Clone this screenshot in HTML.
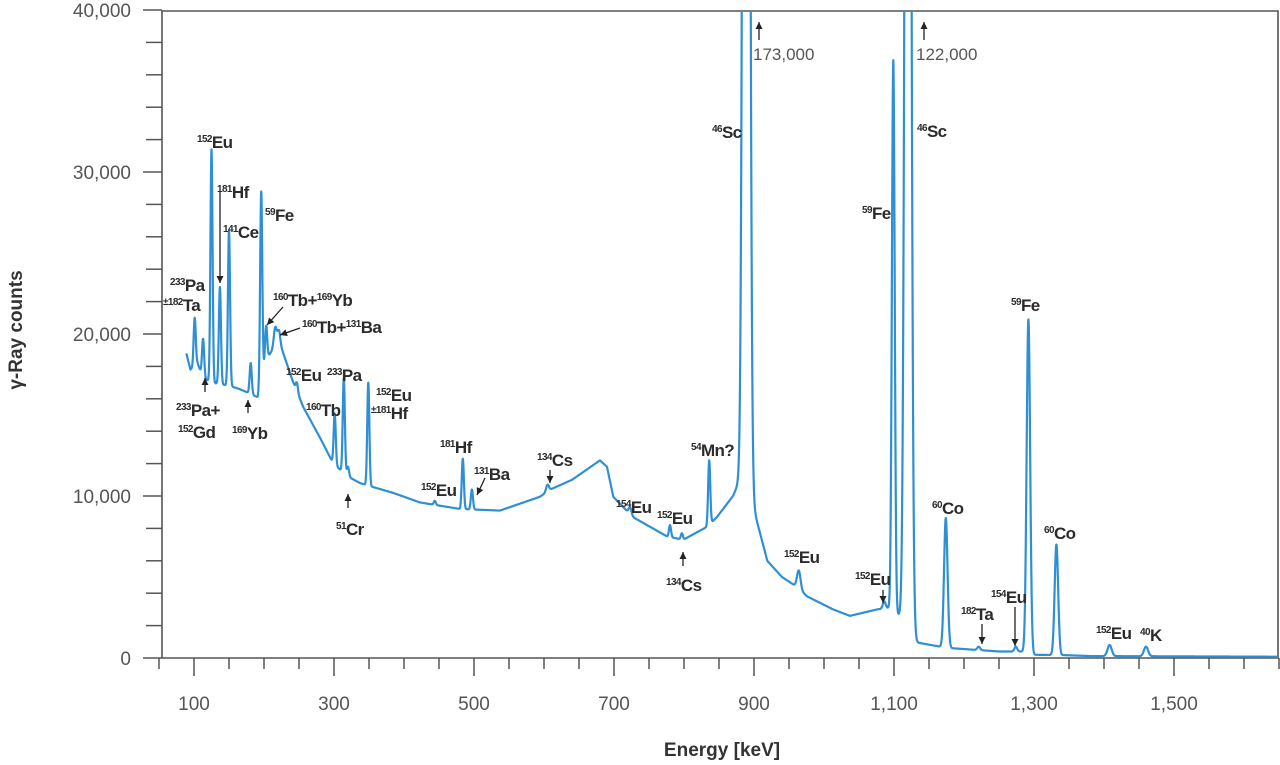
<!DOCTYPE html>
<html><head><meta charset="utf-8">
<style>
html,body{margin:0;padding:0;background:#fff;}
svg{display:block;}
.lbl{font-family:"Liberation Sans",sans-serif;font-weight:bold;font-size:17px;fill:#2b2b2b;letter-spacing:-0.6px;}
.sup{font-size:10px;}
.tick{font-family:"Liberation Sans",sans-serif;font-size:19px;fill:#555;}
</style></head>
<body>
<svg id="chart" width="1280" height="765" viewBox="0 0 1280 765">
<defs><clipPath id="plotclip"><rect x="162" y="11" width="1116" height="647"/></clipPath></defs>
<g id="axes"></g>
<g id="series" clip-path="url(#plotclip)"></g>
<g id="annot"></g>
<text x="22" y="330" transform="rotate(-90 22 330)" text-anchor="middle" font-family="Liberation Sans, sans-serif" font-weight="bold" font-size="19" fill="#333">γ-Ray counts</text>
<text x="722" y="756" text-anchor="middle" font-family="Liberation Sans, sans-serif" font-weight="bold" font-size="19" fill="#333">Energy [keV]</text>
</svg>
<script>
const xTickLabels = [100,300,500,700,900,1100,1300,1500];
const yTickLabels = [0,10000,20000,30000,40000];
const baseE = [89,95,105,113,125,151,165,176,191,198,204,212,222,230,241,256,280,299,320,337,356,384,423,480,537,594,609,640,680,690,699,727,776,799,833,847,870,880,886,895,905,919,940,961,976,1013,1037,1076,1094,1110,1116,1124,1127,1166,1184,1251,1287,1296,1341,1380,1650];
const baseC = [18800,17800,18200,17300,17000,16800,16600,16400,16100,17500,18500,19000,19500,18500,17100,15500,13600,12000,11200,10800,10550,10200,9600,9200,9100,9950,10400,11000,12200,11800,9950,8700,7500,7300,8100,8700,10000,11000,13000,10000,8300,6000,5000,4400,3800,3000,2600,3000,3100,2500,3000,1000,1000,700,600,400,400,200,180,120,80];
const peakE = [101,113,125,137,150,181,196,203,216,221,247,301,314,320,349,444,484,497,605,723,780,797,836,889,964,1086,1099,1120,1174,1221,1274,1292,1332,1408,1460];
const peakC = [21000,19700,31400,22900,26400,18200,28800,20500,20400,20200,17000,15100,17300,11800,17000,9700,12300,10400,10700,9300,8200,7700,12200,173000,5400,3500,36900,122000,8640,700,700,20900,7000,800,700];
const peakW = [1.5,1.5,1.5,1.5,1.5,1.5,1.5,1.5,2,2,1.5,1.5,1.5,1.5,1.5,1.5,1.5,1.5,2,2,1.5,1.5,1.5,3.5,2.5,2,2,3.5,2.5,2,2,2.5,2.5,3,3];

const NS='http://www.w3.org/2000/svg';
const X0=162,X1=1278,Y0=658,Y1=10;
function xs(e){return 754+(e-900)*0.7;}
function ys(c){return Y0-(c/40000)*(Y0-Y1);}
function base(e){
  if(e<=baseE[0])return baseC[0];
  for(let i=1;i<baseE.length;i++){if(e<=baseE[i]){const t=(e-baseE[i-1])/(baseE[i]-baseE[i-1]);return baseC[i-1]+t*(baseC[i]-baseC[i-1]);}}
  return baseC[baseC.length-1];
}
function mk(tag,attrs,parent){const el=document.createElementNS(NS,tag);for(const k in attrs)el.setAttribute(k,attrs[k]);parent.appendChild(el);return el;}
const axes=document.getElementById('axes');
let fr=mk('path',{d:`M${X0},${Y0} L${X0},11 L${X1},11 L${X1},${Y0} Z`,fill:'none',stroke:'#555','stroke-width':1.6},axes);


for(let v=0;v<=40000;v+=2000){
  const y=ys(v);const major=v%10000===0;
  const t=mk('line',{x1:major?143:146,x2:X0,y1:y,y2:y,stroke:'#555','stroke-width':1.5},axes);
  
  
}
yTickLabels.forEach(v=>{
  const t=mk('text',{x:131,y:ys(v)+7,'text-anchor':'end',class:'tick'},axes);
  t.textContent=v.toLocaleString('en-US');
  
  
});
for(let e=50;e<=1650;e+=50){
  const x=xs(e);const major=(e-100)%200===0;
  const t=mk('line',{x1:x,x2:x,y1:Y0,y2:major?676:669,stroke:'#555','stroke-width':1.5},axes);
  
  
}
xTickLabels.forEach(v=>{
  const t=mk('text',{x:xs(v),y:710,'text-anchor':'middle',class:'tick'},axes);
  t.textContent=v.toLocaleString('en-US');
  
  
});
const amps=peakE.map((e,i)=>Math.max(0,peakC[i]-base(e)));
let d='';
for(let e=89;e<=1650;e+=0.25){
  let c=base(e);
  for(let i=0;i<peakE.length;i++){const z=(e-peakE[i])/peakW[i];if(Math.abs(z)<6)c+=amps[i]*Math.exp(-0.5*z*z);}
  const y=Math.max(-50,ys(c));
  d+=(d?'L':'M')+xs(e).toFixed(2)+','+y.toFixed(2);
}
const line=mk('path',{d:d,fill:'none',stroke:'#2f8fd3','stroke-width':2.2,'stroke-linejoin':'round'},document.getElementById('series'));



const labels=[
 [197,148,'152','Eu'],[217,198,'181','Hf'],[223,238,'141','Ce'],[265,221,'59','Fe'],
 [170,291,'233','Pa'],[163,311,'±182','Ta'],[273,306,'160','Tb+|169|Yb'],[302,333,'160','Tb+|131|Ba'],
 [176,416,'233','Pa+'],[178,438,'152','Gd'],[232,439,'169','Yb'],[286,381,'152','Eu'],
 [327,381,'233','Pa'],[306,416,'160','Tb'],[376,401,'152','Eu'],[371,419,'±181','Hf'],[336,535,'51','Cr'],
 [421,496,'152','Eu'],[440,453,'181','Hf'],[474,480,'131','Ba'],[537,466,'134','Cs'],
 [616,513,'154','Eu'],[657,524,'152','Eu'],[666,591,'134','Cs'],[691,456,'54','Mn?'],
 [712,138,'46','Sc'],[917,137,'46','Sc'],[862,219,'59','Fe'],[784,563,'152','Eu'],
 [855,585,'152','Eu'],[961,620,'182','Ta'],[991,603,'154','Eu'],[1011,311,'59','Fe'],
 [932,514,'60','Co'],[1044,539,'60','Co'],[1096,639,'152','Eu'],[1140,641,'40','K']
];
const annot=document.getElementById('annot');
labels.forEach(l=>{
  const t=mk('text',{x:l[0],y:l[1],class:'lbl'},annot);
  const parts=[l[2]].concat(l[3].split('|'));
  parts.forEach((p,i)=>{
    const s=mk('tspan',{},t);
    if(i%2===0){s.setAttribute('class','sup');s.setAttribute('dy','-6');}
    else{s.setAttribute('dy','6');}
    s.textContent=p;
  });
  
  
});
const arrows=[[220,192,220,283],[283,307,267,325],[300,328,280,335],[205,392,205,378],[248,413,248,400],
 [348,508,348,494],[485,478,477,495],[550,470,550,483],[683,566,683,552],[883,590,883,603],[982,624,982,644],[1015,607,1015,646],
 [759,40,759,22],[924,40,924,22]];
arrows.forEach(a=>{
  const g=mk('g',{},annot);
  
  
  mk('line',{x1:a[0],y1:a[1],x2:a[2],y2:a[3],stroke:'#222','stroke-width':1.3},g);
  const ang=Math.atan2(a[3]-a[1],a[2]-a[0]);const L=7,W=3.5;
  const bx=a[2]-L*Math.cos(ang),by=a[3]-L*Math.sin(ang);
  const px=-Math.sin(ang)*W,py=Math.cos(ang)*W;
  mk('polygon',{points:`${a[2]},${a[3]} ${bx+px},${by+py} ${bx-px},${by-py}`,fill:'#222'},g);
});
[[753,60,'173,000'],[916,60,'122,000']].forEach(v=>{
  const t=mk('text',{x:v[0],y:v[1],class:'tick'},annot);
  t.setAttribute('style','font-size:17px');
  t.textContent=v[2];
  
  
});
</script>
</body></html>
